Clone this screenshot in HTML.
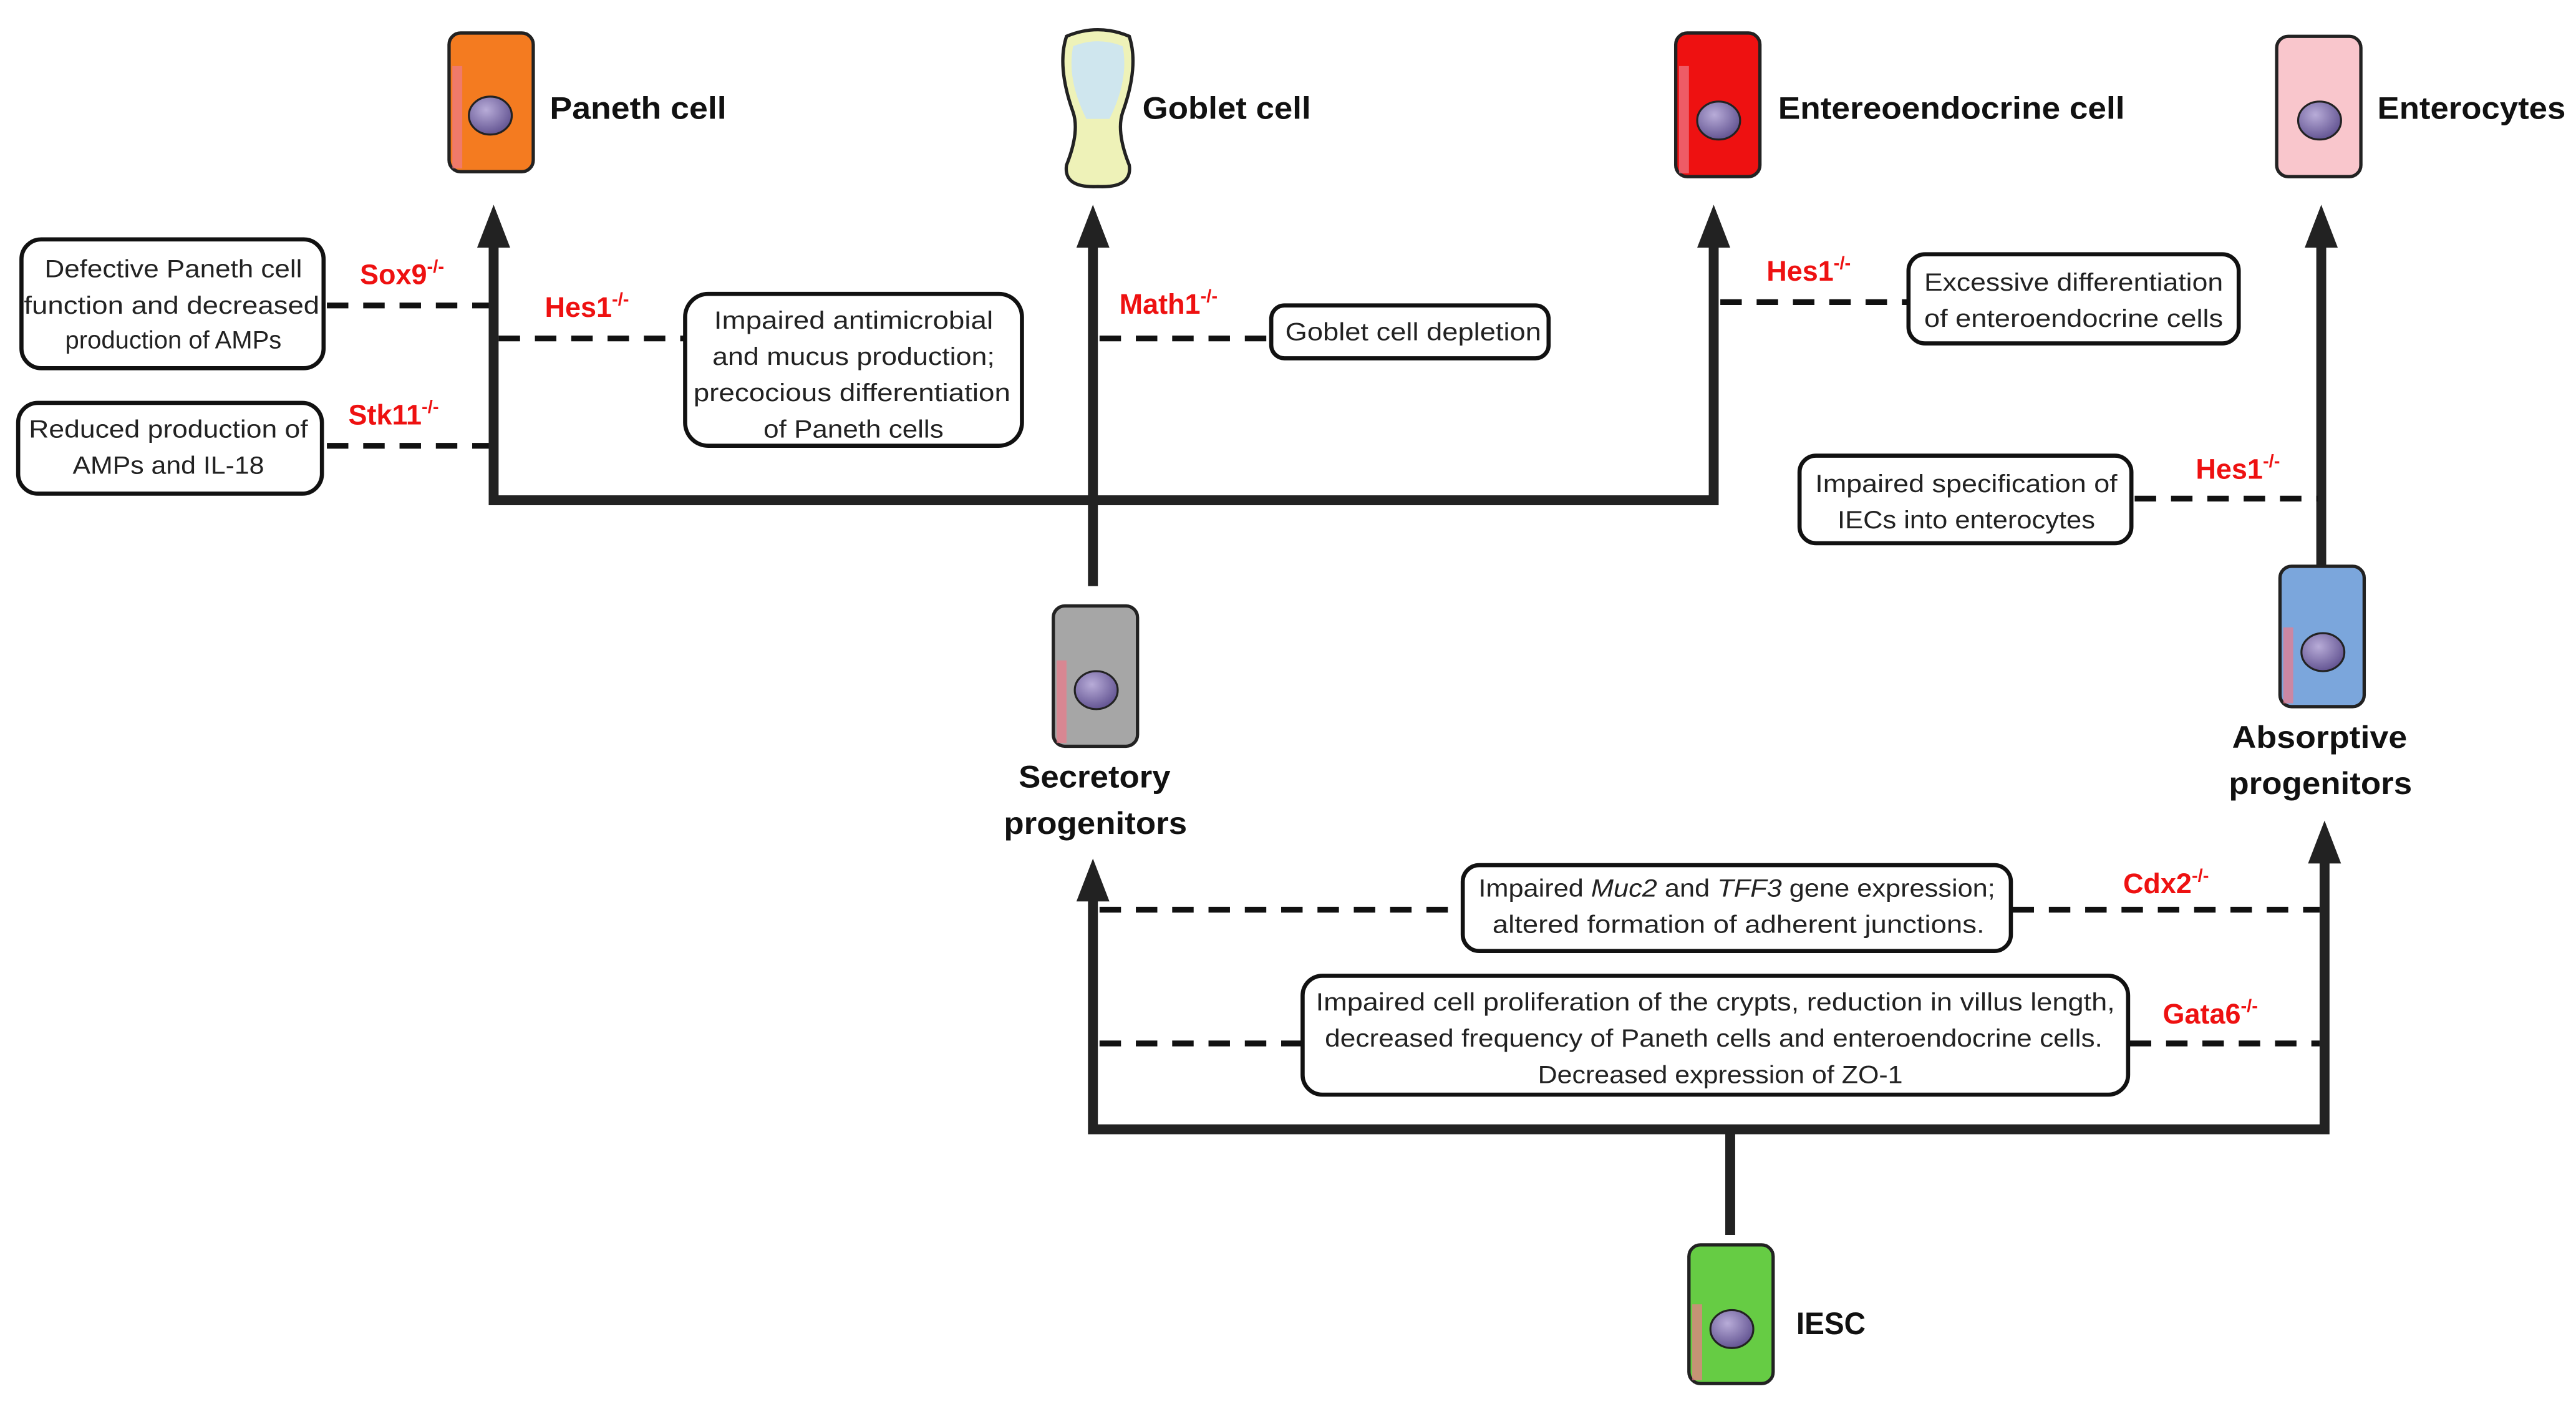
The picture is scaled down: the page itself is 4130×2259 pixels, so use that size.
<!DOCTYPE html>
<html><head><meta charset="utf-8"><style>
html,body{margin:0;padding:0;background:#fff;}
svg{display:block;}
text{font-family:"Liberation Sans Narrow","Liberation Sans",sans-serif;}
.b{font-weight:bold;font-size:19px;fill:#111;}
.t{font-size:15px;fill:#222;text-anchor:middle;}
.r{font-weight:bold;font-size:17px;fill:#ee1111;}
.s{font-size:11px;}
</style></head><body>
<svg width="4130" height="2259" viewBox="0 0 1560.3 853.4" preserveAspectRatio="none" xmlns="http://www.w3.org/2000/svg">
<defs>
<marker id="a" viewBox="0 0 10 10" refX="5" refY="2" markerWidth="4" markerHeight="4.5" orient="auto-start-reverse"><path d="M0,10 L5,0 L10,10 Z" fill="#222"/></marker>
<radialGradient id="n" cx="0.4" cy="0.35" r="0.7"><stop offset="0" stop-color="#b8acd8"/><stop offset="1" stop-color="#5e4f8e"/></radialGradient>
</defs>
<g stroke="#222" stroke-width="6" fill="none">
<path d="M299,303 V140 M662,355 V140 M1038,303 V140 M296,303 H1041 M1406,357 V140"/>
<path d="M662,684 V536 M1408,684 V513 M659,684 H1411 M1048,684 V748"/>
</g>
<g fill="#222">
<path d="M289,150 L299,124 L309,150 Z M652,150 L662,124 L672,150 Z M1028,150 L1038,124 L1048,150 Z M1396,150 L1406,124 L1416,150 Z M652,546 L662,520 L672,546 Z M1398,523 L1408,497 L1418,523 Z"/>
</g>
<g stroke="#111" stroke-width="3.5" stroke-dasharray="13,9">
<path d="M198,185 H296 M302,205 H415 M198,270 H296 M666,205 H770 M1042,183 H1156 M1293,302 H1404 M666,551 H886 M1219,551 H1405 M666,632 H789 M1290,632 H1405"/>
</g>
<!-- cells -->
<g stroke="#222" stroke-width="2">
<rect x="272" y="20" width="51" height="84" rx="7" fill="#f47b20"/>
<rect x="1015" y="20" width="51" height="87" rx="7" fill="#ee1111"/>
<rect x="1379" y="22" width="51" height="85" rx="7" fill="#f9c6cc"/>
<rect x="1381" y="343" width="51" height="85" rx="7" fill="#7ba6dc"/>
<rect x="638" y="367" width="51" height="85" rx="7" fill="#a6a6a6"/>
<rect x="1023" y="754" width="51" height="84" rx="7" fill="#66cc44"/>
<path d="M646,22 Q665,14 684,22 Q690,40 680,68 Q676,80 684,100 Q686,114 665,113 Q644,114 646,100 Q654,80 650,68 Q640,40 646,22 Z" fill="#eef2b8"/>
</g>
<path d="M650,28 Q665,22 680,28 Q684,48 672,72 L658,72 Q646,48 650,28 Z" fill="#cfe6ee"/>
<g fill="#ee7a8a" opacity="0.7">
<rect x="274" y="40" width="6" height="62"/><rect x="1017" y="40" width="6" height="65"/><rect x="1383" y="380" width="6" height="46"/><rect x="640" y="400" width="6" height="50"/><rect x="1025" y="790" width="6" height="46"/>
</g>
<g fill="url(#n)" stroke="#222" stroke-width="1.2">
<ellipse cx="297" cy="70" rx="13" ry="11.5"/><ellipse cx="1041" cy="73" rx="13" ry="11.5"/><ellipse cx="1405" cy="73" rx="13" ry="11.5"/><ellipse cx="1407" cy="395" rx="13" ry="11.5"/><ellipse cx="664" cy="418" rx="13" ry="11.5"/><ellipse cx="1049" cy="805" rx="13" ry="11.5"/>
</g>
<!-- labels -->
<text class="b" x="333" y="72" textLength="107" lengthAdjust="spacingAndGlyphs">Paneth cell</text>
<text class="b" x="692" y="72" textLength="102" lengthAdjust="spacingAndGlyphs">Goblet cell</text>
<text class="b" x="1077" y="72" textLength="210" lengthAdjust="spacingAndGlyphs">Entereoendocrine cell</text>
<text class="b" x="1440" y="72" textLength="114" lengthAdjust="spacingAndGlyphs">Enterocytes</text>
<text class="b" x="1088" y="808" textLength="42" lengthAdjust="spacingAndGlyphs">IESC</text>
<text class="b" x="617" y="477" textLength="92" lengthAdjust="spacingAndGlyphs">Secretory</text>
<text class="b" x="608" y="505" textLength="111" lengthAdjust="spacingAndGlyphs">progenitors</text>
<text class="b" x="1352" y="453" textLength="106" lengthAdjust="spacingAndGlyphs">Absorptive</text>
<text class="b" x="1350" y="481" textLength="111" lengthAdjust="spacingAndGlyphs">progenitors</text>
<!-- red -->
<text class="r" x="218" y="172">Sox9<tspan class="s" dy="-7">-/-</tspan></text>
<text class="r" x="330" y="192">Hes1<tspan class="s" dy="-7">-/-</tspan></text>
<text class="r" x="211" y="257">Stk11<tspan class="s" dy="-7">-/-</tspan></text>
<text class="r" x="678" y="190">Math1<tspan class="s" dy="-7">-/-</tspan></text>
<text class="r" x="1070" y="170">Hes1<tspan class="s" dy="-7">-/-</tspan></text>
<text class="r" x="1330" y="290">Hes1<tspan class="s" dy="-7">-/-</tspan></text>
<text class="r" x="1286" y="541">Cdx2<tspan class="s" dy="-7">-/-</tspan></text>
<text class="r" x="1310" y="620">Gata6<tspan class="s" dy="-7">-/-</tspan></text>
<!-- boxes -->
<g fill="#fff" stroke="#111" stroke-width="2.5">
<rect x="13" y="145" width="183" height="78" rx="12"/>
<rect x="11" y="244" width="184" height="55" rx="12"/>
<rect x="415" y="178" width="204" height="92" rx="14"/>
<rect x="770" y="185" width="168" height="32" rx="8"/>
<rect x="1156" y="154" width="200" height="54" rx="10"/>
<rect x="1090" y="276" width="201" height="53" rx="10"/>
<rect x="886" y="524" width="332" height="52" rx="10"/>
<rect x="789" y="591" width="500" height="72" rx="12"/>
</g>
<g class="t" lengthAdjust="spacingAndGlyphs">
<text class="t" x="105" y="168" textLength="156" lengthAdjust="spacingAndGlyphs">Defective Paneth cell</text>
<text class="t" x="104" y="190" textLength="179" lengthAdjust="spacingAndGlyphs">function and decreased</text>
<text class="t" x="105" y="211" textLength="131" lengthAdjust="spacingAndGlyphs">production of AMPs</text>
<text class="t" x="102" y="265" textLength="169" lengthAdjust="spacingAndGlyphs">Reduced production of</text>
<text class="t" x="102" y="287" textLength="116" lengthAdjust="spacingAndGlyphs">AMPs and IL-18</text>
<text class="t" x="517" y="199" textLength="169" lengthAdjust="spacingAndGlyphs">Impaired antimicrobial</text>
<text class="t" x="517" y="221" textLength="171" lengthAdjust="spacingAndGlyphs">and mucus production;</text>
<text class="t" x="516" y="243" textLength="192" lengthAdjust="spacingAndGlyphs">precocious differentiation</text>
<text class="t" x="517" y="265" textLength="109" lengthAdjust="spacingAndGlyphs">of Paneth cells</text>
<text class="t" x="856" y="206" textLength="155" lengthAdjust="spacingAndGlyphs">Goblet cell depletion</text>
<text class="t" x="1256" y="176" textLength="181" lengthAdjust="spacingAndGlyphs">Excessive differentiation</text>
<text class="t" x="1256" y="198" textLength="181" lengthAdjust="spacingAndGlyphs">of enteroendocrine cells</text>
<text class="t" x="1191" y="298" textLength="183" lengthAdjust="spacingAndGlyphs">Impaired specification of</text>
<text class="t" x="1191" y="320" textLength="156" lengthAdjust="spacingAndGlyphs">IECs into enterocytes</text>
<text class="t" x="1052" y="543" textLength="313" lengthAdjust="spacingAndGlyphs">Impaired <tspan font-style="italic">Muc2</tspan> and <tspan font-style="italic">TFF3</tspan> gene expression;</text>
<text class="t" x="1053" y="565" textLength="298" lengthAdjust="spacingAndGlyphs">altered formation of adherent junctions.</text>
<text class="t" x="1039" y="612" textLength="484" lengthAdjust="spacingAndGlyphs">Impaired cell proliferation of the crypts, reduction in villus length,</text>
<text class="t" x="1038" y="634" textLength="471" lengthAdjust="spacingAndGlyphs">decreased frequency of Paneth cells and enteroendocrine cells.</text>
<text class="t" x="1042" y="656" textLength="221" lengthAdjust="spacingAndGlyphs">Decreased expression of ZO-1</text>
</g>
</svg>
</body></html>
